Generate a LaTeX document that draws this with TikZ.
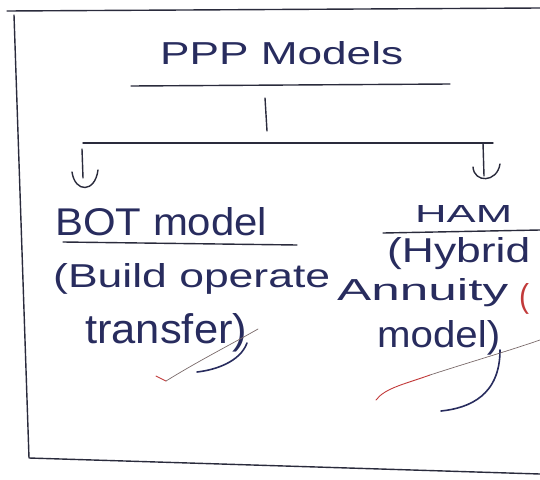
\documentclass[tikz,border=0pt]{standalone}
\usepackage{fontspec}
\setmainfont{Liberation Sans}
\usepackage{graphicx}
\definecolor{inkline}{HTML}{2A2B3C}
\definecolor{inktext}{HTML}{282C5E}
\definecolor{markred}{HTML}{C23A3A}
\definecolor{markgrey}{HTML}{7A6A6A}
\begin{document}
\begin{tikzpicture}[x=1pt,y=-1pt,
  ink/.style={draw=inkline, line width=1.4pt, line cap=round, line join=round},
  pen/.style={draw=inktext, line width=1.6pt, line cap=round},
  txt/.style={anchor=base west, inner sep=0pt, text=inktext},
  redmark/.style={draw=markred, line width=0.9pt, line cap=round},
  thinmark/.style={draw=markgrey, line width=0.7pt, line cap=round}]
\useasboundingbox (0,0) rectangle (540,479);
% frame
\coordinate (fTL) at (7,11);
\coordinate (fTR) at (540,8);
\coordinate (fLT) at (14,15);
\coordinate (fLB) at (29,458);
\coordinate (fBR) at (540,474);
\draw[ink] (fTL) -- (fTR);
\draw[ink] (fLT) -- (fLB) -- (fBR);
% texts
\node[txt] (title) at (160,64) {\resizebox{243pt}{23pt}{PPP Models}};
\node[txt] (bot) at (55,235) {\resizebox{212pt}{28pt}{BOT model}};
\node[txt] (botA) at (53,287) {\resizebox{277pt}{24pt}{(Build operate}};
\node[txt] (botB) at (85,343) {\resizebox{162pt}{30pt}{transfer)}};
\node[txt] (ham) at (415,222) {\resizebox{97pt}{17pt}{HAM}};
\node[txt] (hamA) at (387,262) {\resizebox{143pt}{25pt}{(Hybrid}};
\node[txt] (hamB) at (337,300) {\resizebox{171pt}{22pt}{Annuity}};
\node[txt, text=markred] (hamR) at (519,307) {\resizebox{10pt}{24pt}{(}};
\node[txt] (hamC) at (377,347) {\resizebox{123pt}{27pt}{model)}};
% underlines
\coordinate (ulL) at (131,86);
\coordinate (ulR) at (450,84);
\draw[ink] (ulL) -- (ulR);
\coordinate (botUL) at (63,242);
\coordinate (botUR) at (297,245);
\draw[ink] (botUL) -- (botUR);
\coordinate (hamUL) at (383,233);
\coordinate (hamUR) at (540,230);
\draw[ink] (hamUL) -- (hamUR);
% tree connectors
\coordinate (stemT) at (265,98);
\coordinate (stemB) at (267,131);
\draw[ink] (stemT) -- (stemB);
\coordinate (barL) at (83,143);
\coordinate (barR) at (493,143);
\draw[ink] (barL) -- (barR);
\coordinate (laT) at (82,149);
\coordinate (laB) at (83,178);
\draw[ink] (laT) -- (laB);
\draw[ink] (72,172) .. controls (75,193) and (95,193) .. (98,170);
\coordinate (raT) at (483,143);
\coordinate (raB) at (484,176);
\draw[ink] (raT) -- (raB);
\draw[ink] (473,167) .. controls (474,183) and (497,183) .. (500,164);
% closing swoops
\draw[pen] (247,343) .. controls (240,362) and (215,370) .. (197,372);
\draw[pen] (500,350) .. controls (500,395) and (470,408) .. (441,411);
% check marks
\draw[redmark] (156,376) -- (166,381);
\draw[thinmark] (166,381) .. controls (200,360) and (230,345) .. (258,329);
\draw[redmark] (376,400) .. controls (385,388) and (405,384) .. (430,375);
\draw[thinmark] (430,375) .. controls (470,362) and (505,352) .. (540,340);
\end{tikzpicture}
\end{document}
